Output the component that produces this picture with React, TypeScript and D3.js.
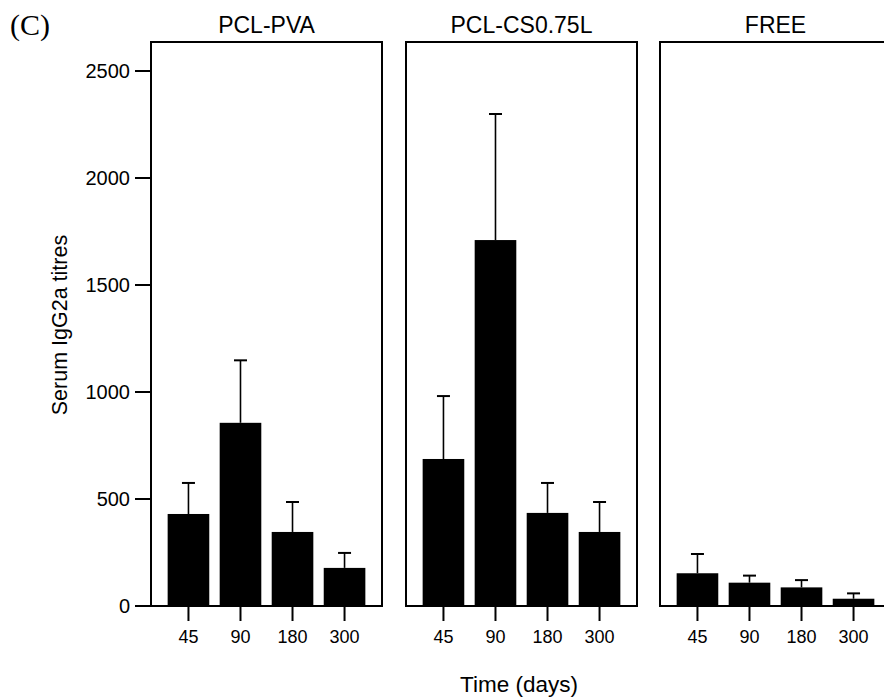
import React from "react";
import * as d3 from "d3";

const panels = ["PCL-PVA", "PCL-CS0.75L", "FREE"];
const days = ["45", "90", "180", "300"];
const pvaMean = [430, 856, 346, 178];
const pvaUpper = [575, 1148, 486, 248];
const csMean = [687, 1710, 435, 346];
const csUpper = [981, 2299, 575, 486];
const freeMean = [153, 109, 87, 34];
const freeUpper = [243, 142, 121, 59];
const yTicks = [0, 500, 1000, 1500, 2000, 2500];

const means = [pvaMean, csMean, freeMean];
const uppers = [pvaUpper, csUpper, freeUpper];

const W = 884;
const H = 697;
const panelLefts = [151, 406, 660];
const panelW = 231;
const top = 42;
const bottom = 606;

export default function App() {
  const y = d3.scaleLinear().domain([0, 2500]).range([bottom, 71]);
  const sans = "'Liberation Sans', Arial, Helvetica, sans-serif";
  return (
    <svg
      width={W}
      height={H}
      style={{ position: "absolute", left: 0, top: 0, background: "#fff" }}
      fontFamily={sans}
    >
      <rect x={0} y={0} width={W} height={H} fill="#fff" />
      <text x={10} y={35} fontFamily="'Liberation Serif', 'Times New Roman', serif" fontSize={30}>
        (C)
      </text>
      {/* y axis ticks */}
      {yTicks.map((t) => (
        <g key={t}>
          <line x1={135} x2={151} y1={y(t)} y2={y(t)} stroke="#000" strokeWidth={2} />
          <text x={130} y={y(t)} dy="0.36em" textAnchor="end" fontSize={20}>
            {t}
          </text>
        </g>
      ))}
      {panels.map((p, pi) => {
        const x0 = panelLefts[pi];
        const x = d3
          .scaleBand<string>()
          .domain(days)
          .range([x0, x0 + panelW])
          .paddingInner(0.2)
          .paddingOuter(0.32);
        return (
          <g key={p}>
            <text x={x0 + panelW / 2} y={33} textAnchor="middle" fontSize={23}>
              {p}
            </text>
            {days.map((d, i) => {
              const bx = x(d)!;
              const cx = bx + x.bandwidth() / 2;
              const m = means[pi][i];
              const u = uppers[pi][i];
              return (
                <g key={d}>
                  <rect
                    x={bx}
                    y={y(m)}
                    width={x.bandwidth()}
                    height={bottom - y(m)}
                    fill="#000"
                  />
                  <line x1={cx} x2={cx} y1={y(m)} y2={y(u)} stroke="#000" strokeWidth={1.6} />
                  <line x1={cx - 6.5} x2={cx + 6.5} y1={y(u)} y2={y(u)} stroke="#000" strokeWidth={2} />
                  <line x1={cx} x2={cx} y1={bottom} y2={621} stroke="#000" strokeWidth={2} />
                  <text x={cx} y={643} textAnchor="middle" fontSize={18}>
                    {d}
                  </text>
                </g>
              );
            })}
            <rect
              x={x0}
              y={top}
              width={panelW}
              height={bottom - top}
              fill="none"
              stroke="#000"
              strokeWidth={2}
            />
          </g>
        );
      })}
      <text x={519} y={692} textAnchor="middle" fontSize={22.5}>
        Time (days)
      </text>
      <text transform="translate(67,325) rotate(-90)" textAnchor="middle" fontSize={21.5}>
        Serum IgG2a titres
      </text>
    </svg>
  );
}
